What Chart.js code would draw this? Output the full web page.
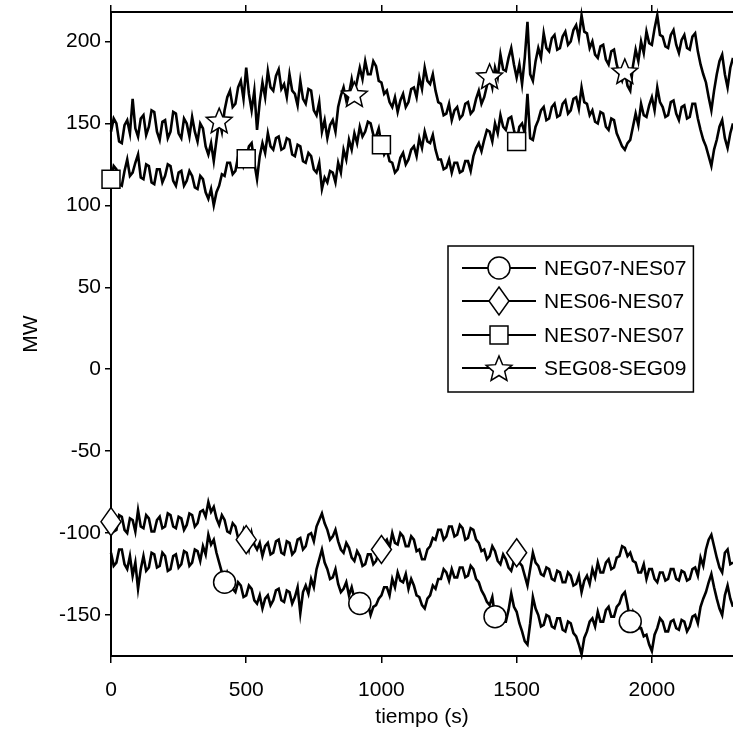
<!DOCTYPE html>
<html>
<head>
<meta charset="utf-8">
<script src="https://cdn.jsdelivr.net/npm/chart.js@4.4.0/dist/chart.umd.min.js"></script>
<style>
html, body { margin: 0; padding: 0; background: #fff; }
canvas { display: block; }
</style>
</head>
<body>
<canvas id="grafico" width="733" height="734"></canvas>
<script>
// muestras cada 10 s, de 0 a 2300 s (una fila = 100 s)
const paso = 10;

// SEG08-SEG09 (MW)
const seg08 = [
  145, 153, 150, 139, 138, 149, 152, 144, 165, 147,
  142, 153, 155, 143, 148, 158, 157, 145, 140, 151,
  152, 141, 145, 157, 156, 144, 141, 153, 150, 142,
  154, 145, 139, 150, 147, 136, 131, 138, 127, 140,
  152, 145, 158, 166, 170, 160, 162, 172, 176, 165,
  184, 168, 158, 170, 146, 163, 175, 166, 182, 172,
  170, 179, 183, 171, 174, 166, 180, 170, 168, 161,
  176, 165, 162, 171, 170, 158, 155, 163, 145, 152,
  141, 149, 152, 145, 160, 167, 172, 164, 168, 177,
  168, 176, 184, 177, 188, 180, 180, 188, 185, 176,
  175, 168, 170, 163, 160, 166, 157, 164, 168, 160,
  163, 171, 172, 166, 178, 171, 184, 176, 174, 180,
  170, 163, 162, 155, 156, 162, 152, 158, 160, 153,
  155, 162, 163, 156, 158, 165, 170, 162, 166, 173,
  179, 172, 184, 178, 192, 183, 182, 190, 196, 186,
  178, 186, 174, 190, 212, 180, 176, 188, 196, 190,
  205, 196, 194, 202, 204, 195, 196, 203, 206, 198,
  200, 207, 210, 202, 216, 206, 205, 196, 200, 192,
  190, 197, 198, 189, 186, 194, 195, 186, 180, 176,
  182, 173, 170, 185, 195, 188, 200, 193, 206, 199,
  198, 208, 216, 204, 203, 197, 196, 204, 207, 198,
  193, 201, 204, 196, 195, 203, 205, 194, 186, 180,
  175, 166, 158, 170, 180, 188, 192, 180, 172, 184,
  190
];

// NES07-NES07
const nes07 = [
  116, 124, 122, 113, 112, 121, 128, 118, 120, 126,
  131, 117, 116, 125, 124, 114, 113, 122, 122, 114,
  118, 125, 124, 115, 112, 120, 121, 112, 115, 121,
  118, 111, 110, 118, 116, 108, 104, 110, 100, 108,
  112, 119, 118, 126, 126, 119, 121, 130, 132, 124,
  128.5, 136, 138, 126, 116, 130, 138, 132, 144, 136,
  134, 141, 142, 134, 135, 141, 140, 131, 130, 137,
  136, 127, 126, 132, 130, 122, 120, 126, 110, 117,
  114, 121, 120, 114, 126, 120, 134, 128, 140, 134,
  144, 138, 148, 142, 145, 151, 150, 143, 142, 147,
  137, 131, 134, 127, 126, 120, 122, 129, 132, 125,
  128, 134, 136, 130, 141, 135, 145, 139, 138, 143,
  134, 128, 128, 122, 123, 128, 120, 126, 126, 120,
  121, 127, 127, 121, 130, 135, 138, 133, 140, 146,
  145, 139, 150, 144, 155, 148, 146, 153, 154, 146,
  139, 148, 150, 144, 168, 141, 140, 148, 152, 158,
  160, 152, 153, 160, 162, 154, 155, 162, 164, 156,
  158, 165, 166, 159, 172, 163, 162, 155, 158, 151,
  150, 157, 156, 148, 146, 153, 152, 144, 140, 136,
  134, 138, 140, 148, 156, 149, 162, 155, 154, 161,
  166, 158, 172, 163, 160, 154, 155, 163, 164, 156,
  152, 160, 161, 153, 154, 162, 162, 153, 146, 140,
  136, 130, 124, 134, 140, 148, 152, 141, 135, 144,
  150
];

// NES06-NES07
const nes06 = [
  -93, -99, -98, -89, -90, -98, -100, -91, -92, -99,
  -86, -96, -97, -89, -91, -99, -99, -92, -90, -97,
  -96, -88, -89, -96, -97, -90, -91, -98, -95, -88,
  -89, -96, -94, -87, -86, -90, -81, -87, -84, -91,
  -95, -89, -92, -99, -100, -94, -96, -103, -104, -98,
  -104, -110, -100, -107, -110, -106, -114, -108, -106, -113,
  -112, -105, -104, -112, -113, -105, -106, -113, -111, -104,
  -103, -110, -108, -101, -100, -105, -96, -92, -88, -94,
  -98, -104, -102, -98, -105, -110, -112, -106, -109, -115,
  -117, -111, -114, -120, -119, -113, -113, -119, -117, -112,
  -110, -106, -104, -109, -100, -106, -107, -100, -102, -108,
  -108, -102, -104, -111, -110, -116, -116, -110, -108, -103,
  -104, -98, -98, -104, -102, -96, -96, -102, -101, -95,
  -97, -104, -103, -97, -98, -104, -106, -111, -110, -116,
  -114, -108, -111, -117, -119, -113, -116, -121, -123, -117,
  -112, -118, -120, -126, -132, -122, -112, -118, -120, -125,
  -126, -121, -122, -128, -129, -123, -124, -130, -130, -124,
  -126, -132, -131, -126, -136, -129, -126, -131, -122, -127,
  -118, -124, -124, -118, -116, -122, -121, -115, -114, -108,
  -109, -114, -112, -117, -118, -124, -124, -119, -128, -122,
  -122, -128, -130, -124, -124, -129, -128, -122, -122, -128,
  -129, -123, -124, -129, -128, -122, -121, -126, -115, -120,
  -110, -104, -101, -108, -115, -121, -124, -112, -110, -119,
  -118
];

// NEG07-NES07
const neg07 = [
  -112, -120, -118, -110, -110, -119, -122, -114, -126, -118,
  -134, -122, -114, -123, -121, -112, -113, -121, -120, -112,
  -114, -123, -122, -114, -113, -121, -119, -111, -112, -120,
  -118, -110, -111, -117, -108, -113, -101, -107, -104, -112,
  -118, -124, -130, -124, -128, -134, -136, -130, -132, -139,
  -138, -132, -134, -141, -143, -138, -146, -140, -138, -144,
  -141, -135, -134, -141, -142, -135, -136, -143, -139, -133,
  -149, -136, -132, -137, -128, -133, -122, -116, -110, -118,
  -122, -128, -127, -122, -131, -136, -134, -130, -138, -133,
  -140, -146, -143, -147, -148, -143, -150, -145, -144, -140,
  -138, -133, -133, -138, -128, -133, -124, -129, -130, -125,
  -134, -128, -132, -138, -139, -144, -146, -140, -138, -132,
  -134, -128, -128, -122, -124, -129, -122, -127, -127, -121,
  -121, -127, -126, -120, -122, -128, -130, -135, -138, -142,
  -144, -139, -151, -146, -148, -154, -154, -147, -137, -145,
  -148, -155, -160, -166, -168, -155, -139, -146, -150, -157,
  -156, -150, -151, -157, -158, -152, -152, -159, -160, -154,
  -155, -161, -163, -168, -174, -164, -160, -154, -152, -157,
  -148, -154, -154, -147, -145, -151, -151, -145, -143, -138,
  -136, -144, -154, -148, -152, -158, -158, -163, -162, -168,
  -172, -162, -158, -152, -154, -160, -160, -154, -153, -158,
  -159, -153, -154, -160, -157, -151, -150, -155, -145, -140,
  -136, -130, -125, -133, -140, -146, -150, -138, -132, -140,
  -145
];

// instantes (s) en los que se dibuja el símbolo de cada serie
const marcasCirculo = [420, 920, 1420, 1920];
const marcasRombo = [0, 500, 1000, 1500];
const marcasCuadro = [0, 500, 1000, 1500];
const marcasEstrella = [400, 900, 1400, 1900];

const nombres = ['NEG07-NES07', 'NES06-NES07', 'NES07-NES07', 'SEG08-SEG09'];
const ticksX = [0, 500, 1000, 1500, 2000];

const tiempos = seg08.map((_, i) => i * paso);
const fuente = '"Liberation Sans", Arial, Helvetica, sans-serif';

// símbolos que Chart.js no trae: estrella de 5 puntas y rombo alargado
function rellenar(ctx) {
  ctx.closePath();
  ctx.fillStyle = '#fff';
  ctx.fill();
  ctx.lineWidth = 1.5;
  ctx.strokeStyle = '#000';
  ctx.stroke();
}

function trazarEstrella(ctx, x, y) {
  ctx.beginPath();
  for (let i = 0; i < 10; i++) {
    const r = i % 2 === 0 ? 13.5 : 6;
    const a = -Math.PI / 2 + i * Math.PI / 5;
    const px = x + r * Math.cos(a), py = y + 1.5 + r * Math.sin(a);
    if (i === 0) ctx.moveTo(px, py); else ctx.lineTo(px, py);
  }
  rellenar(ctx);
}

function trazarRombo(ctx, x, y) {
  ctx.beginPath();
  ctx.moveTo(x, y - 14);
  ctx.lineTo(x + 10, y);
  ctx.lineTo(x, y + 14);
  ctx.lineTo(x - 10, y);
  rellenar(ctx);
}

function puntos(valores) {
  return valores.map((v, i) => ({ x: tiempos[i], y: v }));
}

function radios(marcas, r) {
  return tiempos.map(t => (marcas.includes(t) ? r : 0));
}

function serie(nombre, valores, estilo, marcas, r, trazo) {
  return {
    label: nombre,
    data: puntos(valores),
    borderColor: '#000',
    borderWidth: 2.6,
    pointStyle: estilo,
    pointRadius: trazo ? 0 : radios(marcas, r),
    pointHoverRadius: 0,
    pointBackgroundColor: '#fff',
    pointBorderColor: '#000',
    pointBorderWidth: 1.5,
    radioLeyenda: r,
    marcas: marcas,
    trazo: trazo,
    tension: 0,
    clip: false
  };
}

// estrellas y rombos sobre cada serie, en la posición que calcula Chart.js
const simbolos = {
  id: 'simbolos',
  afterDatasetDraw(chart, args) {
    const ds = chart.data.datasets[args.index];
    if (!ds.trazo) return;
    const ctx = chart.ctx;
    ctx.save();
    args.meta.data.forEach((p, i) => {
      if (ds.marcas.includes(tiempos[i])) ds.trazo(ctx, p.x, p.y);
    });
    ctx.restore();
  }
};

// leyenda con línea + símbolo dentro del área del gráfico
const leyenda = {
  id: 'leyenda',
  afterDatasetsDraw(chart) {
    const ctx = chart.ctx;
    const x0 = 448, y0 = 246, alto = 146;
    const filas = [268, 301, 335, 368];
    ctx.save();
    ctx.font = '21px ' + fuente;
    let ancho = 0;
    chart.data.datasets.forEach(ds => { ancho = Math.max(ancho, ctx.measureText(ds.label).width); });
    const x1 = 544 + ancho + 7;
    ctx.fillStyle = '#fff';
    ctx.fillRect(x0, y0, x1 - x0, alto);
    ctx.lineWidth = 1.5;
    ctx.strokeStyle = '#000';
    ctx.strokeRect(x0, y0, x1 - x0, alto);
    chart.data.datasets.forEach((ds, i) => {
      const y = filas[i];
      ctx.beginPath();
      ctx.moveTo(462, y);
      ctx.lineTo(536, y);
      ctx.lineWidth = 1.8;
      ctx.strokeStyle = '#000';
      ctx.stroke();
      if (ds.trazo) {
        ds.trazo(ctx, 499, y);
      } else {
        ctx.fillStyle = '#fff';
        ctx.lineWidth = 1.5;
        Chart.helpers.drawPoint(ctx, { pointStyle: ds.pointStyle, radius: ds.radioLeyenda, borderWidth: 1.5, rotation: 0 }, 499, y);
      }
      ctx.fillStyle = '#000';
      ctx.textAlign = 'left';
      ctx.textBaseline = 'middle';
      ctx.fillText(ds.label, 544, y + 1);
    });
    ctx.restore();
  }
};

const ejeTicks = { color: '#000', font: { family: fuente, size: 21 } };
const rejilla = { drawOnChartArea: false, drawTicks: true, color: '#000', lineWidth: 1.5 };
const borde = { display: true, color: '#000', width: 2 };
const marcasEjeX = s => { s.ticks = ticksX.map(v => ({ value: v })); };
// sin márgenes extra por las etiquetas de los extremos
const sinRelleno = s => { s.paddingTop = 0; s.paddingBottom = 0; s.paddingLeft = 0; s.paddingRight = 0; };

new Chart(document.getElementById('grafico'), {
  type: 'line',
  data: {
    datasets: [
      serie(nombres[0], neg07, 'circle', marcasCirculo, 11),
      serie(nombres[1], nes06, 'rectRot', marcasRombo, 12, trazarRombo),
      serie(nombres[2], nes07, 'rect', marcasCuadro, 12.7),
      serie(nombres[3], seg08, 'star', marcasEstrella, 13, trazarEstrella)
    ]
  },
  options: {
    responsive: false,
    animation: false,
    devicePixelRatio: 1,
    layout: { padding: 0, autoPadding: false },
    events: [],
    plugins: {
      legend: { display: false },
      tooltip: { enabled: false }
    },
    scales: {
      x: {
        type: 'linear',
        position: 'bottom',
        min: 0,
        max: 2300,
        afterBuildTicks: marcasEjeX,
        afterFit: s => { s.height = 78; sinRelleno(s); },
        ticks: { ...ejeTicks, maxRotation: 0, autoSkip: false, padding: 15, callback: v => String(v) },
        grid: { ...rejilla, tickLength: 7 },
        border: borde,
        title: { display: true, text: 'tiempo (s)', color: '#000', font: { family: fuente, size: 21 }, padding: { top: 0, bottom: 4 } }
      },
      x2: {
        type: 'linear',
        position: 'top',
        min: 0,
        max: 2300,
        afterBuildTicks: marcasEjeX,
        afterFit: s => { s.height = 12; sinRelleno(s); },
        ticks: { display: false },
        grid: { ...rejilla, tickLength: 7 },
        border: borde
      },
      y: {
        min: -175,
        max: 218,
        afterFit: s => { s.width = 111; sinRelleno(s); },
        ticks: { ...ejeTicks, stepSize: 50, includeBounds: false, padding: 4 },
        grid: { ...rejilla, tickLength: 6 },
        border: borde,
        title: { display: true, text: 'MW', color: '#000', font: { family: fuente, size: 21 }, padding: { top: 19 } }
      }
    }
  },
  plugins: [simbolos, leyenda]
});
</script>
</body>
</html>
